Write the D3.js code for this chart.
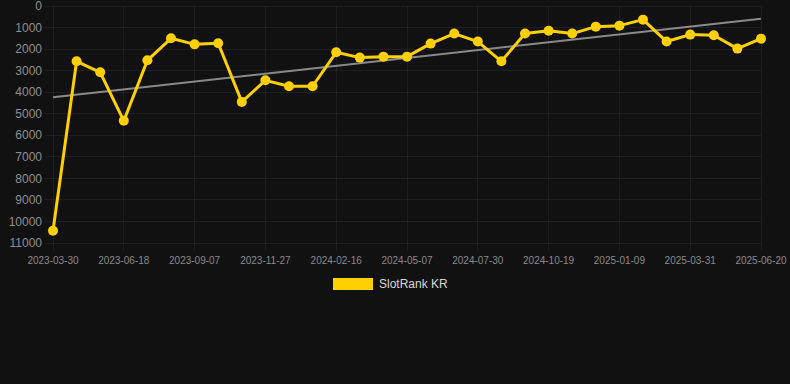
<!DOCTYPE html>
<html>
<head>
<meta charset="utf-8">
<script src="https://cdn.jsdelivr.net/npm/d3@7"></script>
<style>
html,body{margin:0;padding:0;background:#111111;}
svg{display:block;}
</style>
</head>
<body>
<svg id="chart" width="790" height="384"></svg>
<script>
const dates = ["2023-03-30","2023-04-26","2023-05-22","2023-06-18","2023-07-15","2023-08-11","2023-09-07","2023-10-04","2023-10-31","2023-11-27","2023-12-24","2024-01-20","2024-02-16","2024-03-14","2024-04-10","2024-05-07","2024-06-04","2024-07-02","2024-07-30","2024-08-26","2024-09-22","2024-10-19","2024-11-15","2024-12-12","2025-01-09","2025-02-05","2025-03-04","2025-03-31","2025-04-27","2025-05-24","2025-06-20"];
const ranks = [10430,2567,3077,5330,2520,1500,1780,1730,4450,3450,3725,3725,2150,2395,2350,2350,1745,1280,1650,2567,1280,1145,1280,958,911,633,1650,1328,1360,1977,1515];
const yTicks = [0,1000,2000,3000,4000,5000,6000,7000,8000,9000,10000,11000];
const xTickLabels = ["2023-03-30","2023-06-18","2023-09-07","2023-11-27","2024-02-16","2024-05-07","2024-07-30","2024-10-19","2025-01-09","2025-03-31","2025-06-20"];
const seriesName = "SlotRank KR";

(function () {
const svg = d3.select("#chart");
const pL = 53, pR = 761, pT = 6, pB = 243;
const x = d3.scalePoint().domain(dates).range([pL, pR]);
const y = d3.scaleLinear().domain([0, 11000]).range([pT, pB]);
const gold = "#ffd000";
const font = "'Liberation Sans', Arial, Helvetica, sans-serif";
const gridCol = "rgba(255,255,255,0.055)";

// grid
svg.append("g").selectAll("line").data(yTicks).join("line")
  .attr("x1", pL - 8).attr("x2", pR)
  .attr("y1", d => y(d)).attr("y2", d => y(d))
  .attr("stroke", gridCol).attr("stroke-width", 1)
  .attr("shape-rendering", "crispEdges");
svg.append("g").selectAll("line").data(xTickLabels).join("line")
  .attr("x1", d => x(d)).attr("x2", d => x(d))
  .attr("y1", pT).attr("y2", pB + 8)
  .attr("stroke", gridCol).attr("stroke-width", 1)
  .attr("shape-rendering", "crispEdges");

// y labels
svg.append("g").selectAll("text").data(yTicks).join("text")
  .attr("x", 42).attr("y", d => y(d)).attr("dy", "0.35em")
  .attr("text-anchor", "end")
  .attr("font-family", font).attr("font-size", 12)
  .attr("fill", "#8f8f8f")
  .text(d => d);

// x labels
svg.append("g").selectAll("text").data(xTickLabels).join("text")
  .attr("x", d => x(d)).attr("y", 260).attr("dy", "0.35em")
  .attr("text-anchor", "middle")
  .attr("font-family", font).attr("font-size", 10)
  .attr("fill", "#8a8a8a")
  .text(d => d);

// trend (least squares)
const n = ranks.length;
const idx = d3.range(n);
const mx = d3.mean(idx), my = d3.mean(ranks);
const slope = d3.sum(idx, i => (i - mx) * (ranks[i] - my)) / d3.sum(idx, i => (i - mx) * (i - mx));
const icpt = my - slope * mx;
svg.append("line")
  .attr("x1", x(dates[0])).attr("y1", y(icpt))
  .attr("x2", x(dates[n - 1])).attr("y2", y(icpt + slope * (n - 1)))
  .attr("stroke", "#8a8a8a").attr("stroke-width", 2);

// series line
const line = d3.line().x((d, i) => x(dates[i])).y(d => y(d));
svg.append("path").datum(ranks)
  .attr("d", line).attr("fill", "none")
  .attr("stroke", gold).attr("stroke-width", 3)
  .attr("stroke-linejoin", "round");
svg.append("g").selectAll("circle").data(ranks).join("circle")
  .attr("cx", (d, i) => x(dates[i])).attr("cy", d => y(d))
  .attr("r", 5).attr("fill", gold);

// legend
svg.append("rect").attr("x", 333).attr("y", 278).attr("width", 40).attr("height", 12)
  .attr("fill", gold);
svg.append("text").attr("x", 379).attr("y", 284).attr("dy", "0.35em")
  .attr("font-family", font).attr("font-size", 12).attr("fill", "#d8d8d8")
  .text(seriesName);
})();
</script>
</body>
</html>
